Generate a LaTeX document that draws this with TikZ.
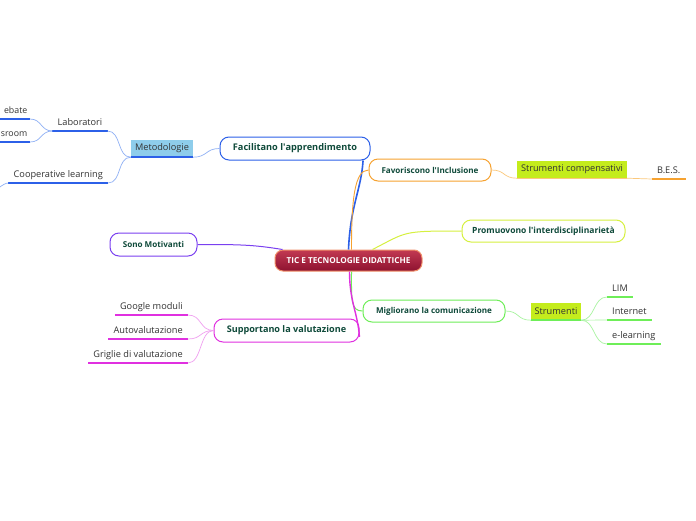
\documentclass[tikz,border=0pt]{standalone}
\usepackage{fontspec}
\setmainfont{Open Sans}
\usetikzlibrary{calc}
\definecolor{dkgreen}{HTML}{0F4A3A}
\definecolor{txtgray}{HTML}{333333}
\definecolor{cblue}{HTML}{2C60E8}
\definecolor{lblue}{HTML}{8FB0F5}
\definecolor{metfill}{HTML}{8ECDEB}
\definecolor{corange}{HTML}{F6A230}
\definecolor{lorange}{HTML}{FBC87C}
\definecolor{cyg}{HTML}{D6F040}
\definecolor{cpurple}{HTML}{7A40F0}
\definecolor{cgreen}{HTML}{6EEE58}
\definecolor{lgreen}{HTML}{A8F4A0}
\definecolor{cmag}{HTML}{E030E0}
\definecolor{lmag}{HTML}{F0A0F0}
\definecolor{limefill}{HTML}{C4EC1C}
\definecolor{rootA}{HTML}{C23A52}
\definecolor{rootB}{HTML}{8E1230}
\definecolor{rootE}{HTML}{F0906A}
\begin{document}
\begin{tikzpicture}[x=1pt,y=-1pt,
  branch/.style={draw, fill=white, rounded corners=9pt, line width=1pt, text=dkgreen, font=\bfseries\fontsize{8.1}{9}\selectfont, inner sep=0pt, minimum height=22pt},
  leaf/.style={inner xsep=5pt, inner ysep=3pt, text height=7pt, text depth=2pt, text=txtgray, font=\fontsize{9.2}{10}\selectfont},
  edgeleaf/.style={leaf, inner xsep=2.5pt, font=\fontsize{8.8}{10}\selectfont},
  tagbox/.style={inner sep=0pt, minimum height=17pt, text=txtgray, font=\fontsize{9.2}{10}\selectfont},
  con/.style={line width=0.7pt},
  uline/.style={line width=1.8pt}
]
\useasboundingbox (0,0) rectangle (696,520);
\clip (0,0) rectangle (696,520);
\fill[white] (0,0) rectangle (696,520);

% main nodes
\node[draw=rootE, line width=1pt, rounded corners=8pt, top color=rootA, bottom color=rootB, text=white, font=\bfseries\fontsize{8.2}{9}\selectfont, minimum width=147pt, minimum height=21pt, inner sep=0pt] (root) at (348.5,260.5) {TIC E TECNOLOGIE DIDATTICHE};
\node[branch, draw=cblue, minimum width=150pt, minimum height=23pt, font=\bfseries\fontsize{9.2}{10}\selectfont] (fac) at (295,148.5) {Facilitano l\textquotesingle apprendimento};
\node[branch, draw=corange, minimum width=122pt] (fav) at (430,170) {Favoriscono l\textquotesingle Inclusione};
\node[branch, draw=cyg, minimum width=163pt, font=\bfseries\fontsize{8.5}{9}\selectfont] (prom) at (543.5,231) {Promuovono l\textquotesingle interdisciplinarietà};
\node[branch, draw=cpurple, minimum width=87pt, minimum height=23pt] (mot) at (153.5,244.5) {Sono Motivanti};
\node[branch, draw=cgreen, minimum width=142pt] (mig) at (434,311) {Migliorano la comunicazione};
\node[branch, draw=cmag, minimum width=145pt, minimum height=23pt, font=\bfseries\fontsize{9.1}{10}\selectfont] (sup) at (286.5,330.5) {Supportano la valutazione};

% tag boxes
\node[tagbox, fill=metfill, minimum width=62pt] (met) at (162,148.5) {Metodologie};
\node[tagbox, fill=limefill, minimum width=110pt] (sc) at (572,169.5) {Strumenti compensativi};
\node[tagbox, fill=limefill, minimum width=50pt] (str) at (556,311.5) {Strumenti};

% leaves
\node[leaf, anchor=south] (lab) at (80,131) {Laboratori};
\node[edgeleaf, anchor=south east] (deb) at (30,119) {ebate};
\node[edgeleaf, anchor=south east] (cls) at (30,142) {sroom};
\node[leaf, anchor=south east] (coop) at (108,183) {Cooperative learning};
\node[leaf, anchor=south west] (bes) at (652,179) {B.E.S.};
\node[leaf, anchor=south west] (lim) at (607,297) {LIM};
\node[leaf, anchor=south west] (inet) at (607,320) {Internet};
\node[leaf, anchor=south west] (elr) at (607,344) {e-learning};
\node[leaf, anchor=south east] (goo) at (188,315) {Google moduli};
\node[leaf, anchor=south east] (auto) at (188,339) {Autovalutazione};
\node[leaf, anchor=south east] (gri) at (188,363) {Griglie di valutazione};
\coordinate (cpout) at (-10,192);

% underlines
\draw[uline, cblue] (met.south west) -- (met.south east);
\draw[uline, cblue] (lab.south west) -- (lab.south east);
\draw[uline, cblue] (coop.south west) -- (coop.south east);
\draw[uline, cblue] (deb.south east) -- ++(-40,0);
\draw[uline, cblue] (cls.south east) -- ++(-40,0);
\draw[line width=1pt, lorange] (sc.south west) -- (sc.south east);
\draw[uline, corange] (bes.south west) -- (bes.south east);
\draw[uline, cgreen] (str.south west) -- (str.south east);
\draw[uline, cgreen] (lim.south west) -- (lim.south east);
\draw[uline, cgreen] (inet.south west) -- (inet.south east);
\draw[uline, cgreen] (elr.south west) -- (elr.south east);
\draw[uline, cmag] (goo.south west) -- (goo.south east);
\draw[uline, cmag] (auto.south west) -- (auto.south east);
\draw[uline, cmag] (gri.south west) -- (gri.south east);

% main connectors
\draw[cblue, line width=1.6pt] (root.north) .. controls +(2,-45) and +(-2,30) .. (fac.-10);
\draw[corange, line width=0.9pt] ($(root.north)+(3,0)$) .. controls +(0,-50) and +(-14,0) .. (fav.west);
\draw[cyg, line width=1pt] ($(root.north)+(24,0)$) .. controls +(35,-18) and +(-60,0) .. (prom.west);
\draw[cpurple, line width=1pt] (mot.east) .. controls +(40,0) and +(-30,-5) .. ($(root.north west)+(8,0)$);
\draw[cgreen, line width=1pt] ($(root.south)+(3,0)$) .. controls +(0,28) and +(-12,0) .. (mig.west);
\draw[cmag, line width=1.4pt] ($(root.south)+(1,0)$) .. controls +(0,30) and +(-2,-25) .. (sup.-5);

% sub connectors
\draw[lblue, con] (fac.west) .. controls +(-14,0) and +(14,0) .. (met.south east);
\draw[lblue, con] (met.south west) .. controls +(-14,0) and +(14,0) .. (lab.south east);
\draw[lblue, con] (met.south west) .. controls +(-14,0) and +(14,0) .. (coop.south east);
\draw[lblue, con] (lab.south west) .. controls +(-12,0) and +(12,0) .. (deb.south east);
\draw[lblue, con] (lab.south west) .. controls +(-12,0) and +(12,0) .. (cls.south east);
\draw[lblue, con] (coop.south west) .. controls +(-6,0) and +(6,0) .. (cpout);
\draw[lorange, con] (fav.east) .. controls +(14,0) and +(-14,0) .. (sc.south west);
\draw[lorange, con] (sc.south east) -- (bes.south west);
\draw[lgreen, con] (mig.east) .. controls +(14,0) and +(-14,0) .. (str.south west);
\draw[lgreen, con] (str.south east) .. controls +(14,0) and +(-14,0) .. (lim.south west);
\draw[lgreen, con] (str.south east) -- (inet.south west);
\draw[lgreen, con] (str.south east) .. controls +(14,0) and +(-14,0) .. (elr.south west);
\draw[lmag, con] (sup.west) .. controls +(-14,0) and +(14,0) .. (goo.south east);
\draw[lmag, con] (sup.west) .. controls +(-14,0) and +(14,0) .. (auto.south east);
\draw[lmag, con] (sup.west) .. controls +(-14,0) and +(14,0) .. (gri.south east);
\end{tikzpicture}
\end{document}
